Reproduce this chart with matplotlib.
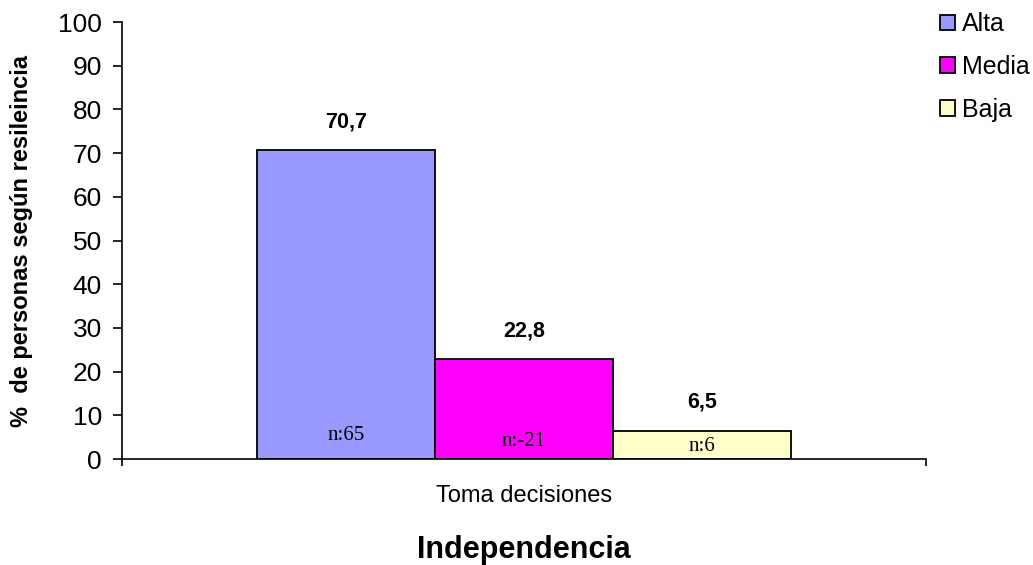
import matplotlib.pyplot as plt
from matplotlib.patches import Patch

plt.rcParams['font.family'] = ['Liberation Sans', 'DejaVu Sans']

categories = ['Alta', 'Media', 'Baja']
values = [70.7, 22.8, 6.5]
counts = ['n:65', 'n:-21', 'n:6']
count_y = [5.3, 4.1, 2.9]
colors = ['#9999ff', '#ff00ff', '#ffffcc']
group_label = 'Toma decisiones'

fig = plt.figure(figsize=(10.33, 5.65), dpi=100)
ax = fig.add_axes([0.1181, 0.1876, 0.7783, 0.7734])

width = 0.2214
xs = [0.5 - width, 0.5, 0.5 + width]
bars = ax.bar(xs, values, width=width, color=colors, edgecolor='black', linewidth=1.3)

for x, v in zip(xs, values):
    ax.annotate(f'{v:.1f}'.replace('.', ','), (x, v), xytext=(0, 13),
                textcoords='offset points', ha='center', va='bottom',
                fontsize=15.5, fontweight='bold')

for x, n, y in zip(xs, counts, count_y):
    ax.text(x, y, n, ha='center', va='center', fontsize=15,
            family=['Liberation Serif', 'DejaVu Serif'])

ax.set_xlim(0, 1)
ax.set_ylim(0, 100)
ax.set_yticks(range(0, 101, 10))
ax.tick_params(axis='y', labelsize=19, length=6.5, width=1.2, direction='out', pad=8)
ax.set_xticks([0, 1])
ax.set_xticklabels(['', ''])
ax.tick_params(axis='x', length=5, width=1.2, direction='out')
ax.text(0.5, -0.06, group_label, transform=ax.transAxes, ha='center', va='top', fontsize=17)

ax.spines['top'].set_visible(False)
ax.spines['right'].set_visible(False)
ax.spines['left'].set_linewidth(1.2)
ax.spines['bottom'].set_linewidth(1.2)

ax.set_ylabel('%  de personas según resileincia', fontsize=17, fontweight='bold')
ax.yaxis.set_label_coords(-0.111, 0.5)
ax.set_xlabel('Independencia', fontsize=22, fontweight='bold', labelpad=46)

handles = [Patch(facecolor=c, edgecolor='black', linewidth=1.3) for c in colors]
fig.legend(handles, categories, loc='upper left', bbox_to_anchor=(0.888, 1.018),
           frameon=False, fontsize=18, handlelength=0.6, handleheight=0.6,
           handletextpad=0.3, labelspacing=0.75)

fig.savefig('out.png', dpi=100)
